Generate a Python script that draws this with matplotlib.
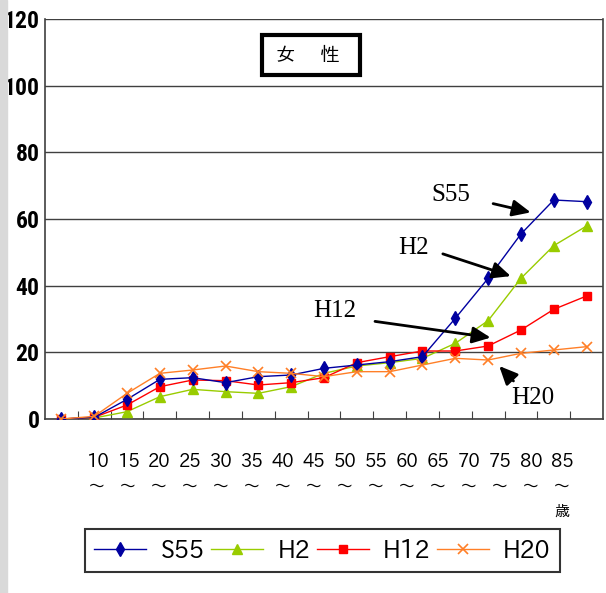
import matplotlib
matplotlib.use("Agg")
import matplotlib.pyplot as plt
from matplotlib.patches import Rectangle
import numpy as np

age_labels = ["10", "15", "20", "25", "30", "35", "40", "45", "50", "55",
              "60", "65", "70", "75", "80", "85"]
s55 = [0, 0.5, 5.9, 11.9, 12.4, 10.9, 12.7, 13.2, 15.2, 16.2, 17.2, 18.7, 30.2, 42.2, 55.5, 65.7, 65.2]
h2 = [0, 0.3, 2.2, 6.7, 8.9, 8.2, 7.7, 9.7, 13.7, 15.9, 16.9, 18.2, 22.7, 29.5, 42.2, 52.0, 57.9]
h12 = [0, 0.5, 4.2, 9.7, 11.7, 11.5, 10.2, 10.9, 12.4, 16.9, 18.7, 20.4, 20.4, 21.9, 26.7, 32.9, 36.9]
h20 = [0, 0.8, 7.7, 13.7, 14.7, 15.9, 14.2, 13.7, 12.7, 14.2, 14.2, 16.2, 18.2, 17.7, 19.7, 20.7, 21.7]
yticks = [0, 20, 40, 60, 80, 100, 120]

W, H = 606, 593
fig = plt.figure(figsize=(W / 100, H / 100), dpi=100)
fig.patches.append(Rectangle((0, 0), 7 / W, 1, transform=fig.transFigure,
                             color="#d9d9d9", zorder=0))

ax = fig.add_axes([45 / W, 1 - 419 / H, (603 - 45) / W, 400 / H])
x = np.arange(len(s55))
ax.plot(x, s55, color="#0000A0", lw=1, marker="d", ms=7, mfc="#0000A0", mec="#0000A0", label="S55", zorder=4)
ax.plot(x, h2, color="#99CC00", lw=1, marker="^", ms=7, mfc="#99CC00", mec="#99CC00", label="H2", zorder=3)
ax.plot(x, h12, color="#FF0000", lw=1, marker="s", ms=6, mfc="#FF0000", mec="#FF0000", label="H12", zorder=3)
ax.plot(x, h20, color="#FF7F27", lw=1, marker="x", ms=7, mew=1.2, label="H20", zorder=5)

ax.set_xlim(-0.5, len(s55) - 0.5)
ax.set_ylim(0, 120)
ax.set_yticks(yticks)
ax.set_yticklabels([str(v) for v in yticks], fontsize=17, fontweight="bold",
                   family=["Roboto Condensed", "DejaVu Sans"])
ax.tick_params(axis="y", length=0, pad=4)
ax.set_xticks(np.arange(0.5, len(s55) - 1, 1))
ax.set_xticklabels([])
ax.tick_params(axis="x", direction="in", length=6, color="#404040")
ax.grid(axis="y", color="#404040", lw=1)
for s in ["left", "bottom", "right", "top"]:
    ax.spines[s].set_color("#404040")
    ax.spines[s].set_linewidth(1.2)
ax.spines["top"].set_visible(False)

jp = ["IPAPGothic", "Noto Sans CJK JP", "DejaVu Sans"]
xs = np.linspace(97, 562, len(age_labels))
for xp, lab in zip(xs, age_labels):
    fig.text(xp / W, 1 - 462 / H, lab, ha="center", va="center", fontsize=13, family=jp)
    fig.text(xp / W, 1 - 487 / H, "～", ha="center", va="center", fontsize=12, family=jp)
fig.text(562 / W, 1 - 512 / H, "歳", ha="center", va="center", fontsize=11, family=jp)

# title box
fig.patches.append(Rectangle((262 / W, 1 - 75 / H), 98 / W, 40 / H, transform=fig.transFigure,
                             fc="white", ec="black", lw=3, zorder=5))
fig.text(308 / W, 1 - 56 / H, "女　 性", ha="center", va="center", fontsize=14,
         family=jp, zorder=6)

serif = ["Liberation Serif", "DejaVu Serif"]
arrow = dict(arrowstyle="-|>,head_length=1.1,head_width=0.5", color="black", lw=2)
anns = [("S55", (11.85, 67.2), (13.07, 64.8), (14.38, 61.8)),
        ("H2", (10.72, 51.3), (11.54, 49.8), (13.77, 42.6)),
        ("H12", (8.34, 32.4), (9.47, 29.4), (13.16, 24.3)),
        ("H20", (14.35, 6.3), (13.83, 10.8), (13.28, 16.5))]
for lab, tpos, tail, head in anns:
    ax.text(tpos[0], tpos[1], lab, ha="center", va="center", fontsize=18, family=serif, zorder=6)
    ax.annotate("", xy=head, xytext=tail, arrowprops=arrow, zorder=6)

leg = fig.legend(loc="lower left", bbox_to_anchor=(85 / W, 1 - 572 / H, 475 / W, 45 / H),
                 mode="expand", ncol=4, frameon=True, fancybox=False,
                 prop={"family": jp, "size": 17},
                 handlelength=2.2, borderaxespad=0, borderpad=0.4,
                 handletextpad=0.6, columnspacing=1.4)
leg.get_frame().set_edgecolor("black")
leg.get_frame().set_linewidth(1.5)

fig.savefig("out.png", dpi=100)
